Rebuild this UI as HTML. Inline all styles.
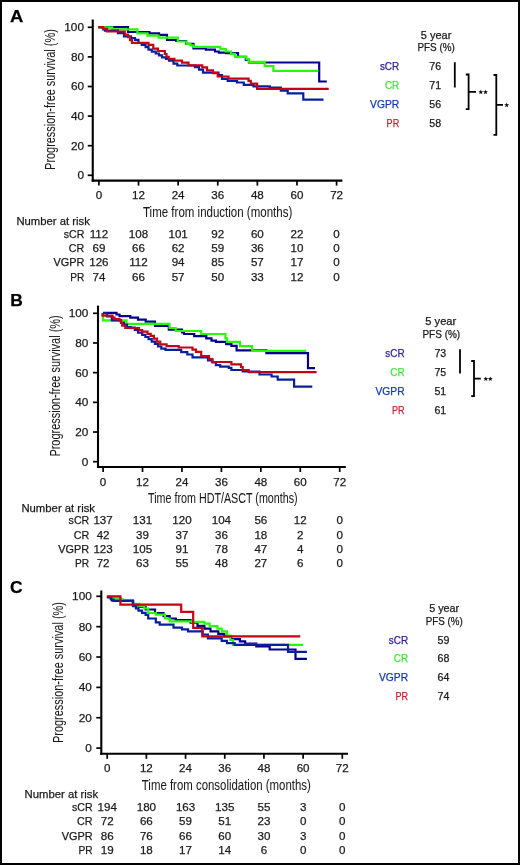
<!DOCTYPE html>
<html><head><meta charset="utf-8"><style>
html,body{margin:0;padding:0;background:#fff;}
body{width:520px;height:865px;overflow:hidden;}
.frame{position:absolute;left:0;top:0;width:516px;height:861px;border:2px solid #000;background:#fff;}
svg{position:absolute;left:0;top:0;will-change:transform;}
text{font-family:"Liberation Sans", sans-serif;stroke:currentColor;stroke-width:0.25px;}
</style></head><body>
<div class="frame"></div>
<svg width="520" height="865" viewBox="0 0 520 865">
<text x="10.10" y="22.40" font-size="17.4" textLength="13.30" lengthAdjust="spacingAndGlyphs" font-weight="bold" fill="#000" color="#000">A</text>
<line x1="92.75" y1="19.50" x2="92.75" y2="181.65" stroke="#000" stroke-width="2.1"/>
<line x1="91.70" y1="180.60" x2="342.40" y2="180.60" stroke="#000" stroke-width="2.1"/>
<line x1="87.75" y1="175.30" x2="92.75" y2="175.30" stroke="#000" stroke-width="1.7"/>
<text x="84.00" y="179.20" font-size="11.8" text-anchor="end" fill="#1a1a1a" color="#1a1a1a">0</text>
<line x1="87.75" y1="145.70" x2="92.75" y2="145.70" stroke="#000" stroke-width="1.7"/>
<text x="84.00" y="149.60" font-size="11.8" text-anchor="end" fill="#1a1a1a" color="#1a1a1a">20</text>
<line x1="87.75" y1="116.10" x2="92.75" y2="116.10" stroke="#000" stroke-width="1.7"/>
<text x="84.00" y="120.00" font-size="11.8" text-anchor="end" fill="#1a1a1a" color="#1a1a1a">40</text>
<line x1="87.75" y1="86.50" x2="92.75" y2="86.50" stroke="#000" stroke-width="1.7"/>
<text x="84.00" y="90.40" font-size="11.8" text-anchor="end" fill="#1a1a1a" color="#1a1a1a">60</text>
<line x1="87.75" y1="56.90" x2="92.75" y2="56.90" stroke="#000" stroke-width="1.7"/>
<text x="84.00" y="60.80" font-size="11.8" text-anchor="end" fill="#1a1a1a" color="#1a1a1a">80</text>
<line x1="87.75" y1="27.30" x2="92.75" y2="27.30" stroke="#000" stroke-width="1.7"/>
<text x="84.00" y="31.20" font-size="11.8" text-anchor="end" fill="#1a1a1a" color="#1a1a1a">100</text>
<line x1="98.90" y1="180.60" x2="98.90" y2="185.60" stroke="#000" stroke-width="1.7"/>
<text x="98.90" y="199.10" font-size="11.6" text-anchor="middle" fill="#1a1a1a" color="#1a1a1a">0</text>
<line x1="138.52" y1="180.60" x2="138.52" y2="185.60" stroke="#000" stroke-width="1.7"/>
<text x="138.52" y="199.10" font-size="11.6" text-anchor="middle" fill="#1a1a1a" color="#1a1a1a">12</text>
<line x1="178.13" y1="180.60" x2="178.13" y2="185.60" stroke="#000" stroke-width="1.7"/>
<text x="178.13" y="199.10" font-size="11.6" text-anchor="middle" fill="#1a1a1a" color="#1a1a1a">24</text>
<line x1="217.75" y1="180.60" x2="217.75" y2="185.60" stroke="#000" stroke-width="1.7"/>
<text x="217.75" y="199.10" font-size="11.6" text-anchor="middle" fill="#1a1a1a" color="#1a1a1a">36</text>
<line x1="257.37" y1="180.60" x2="257.37" y2="185.60" stroke="#000" stroke-width="1.7"/>
<text x="257.37" y="199.10" font-size="11.6" text-anchor="middle" fill="#1a1a1a" color="#1a1a1a">48</text>
<line x1="296.98" y1="180.60" x2="296.98" y2="185.60" stroke="#000" stroke-width="1.7"/>
<text x="296.98" y="199.10" font-size="11.6" text-anchor="middle" fill="#1a1a1a" color="#1a1a1a">60</text>
<line x1="336.60" y1="180.60" x2="336.60" y2="185.60" stroke="#000" stroke-width="1.7"/>
<text x="336.60" y="199.10" font-size="11.6" text-anchor="middle" fill="#1a1a1a" color="#1a1a1a">72</text>
<text x="143.00" y="216.70" font-size="14.0" textLength="149.30" lengthAdjust="spacingAndGlyphs" fill="#1a1a1a" color="#1a1a1a" style="stroke-width:0.05px">Time from induction (months)</text>
<text transform="translate(54.70,169.90) rotate(-90)" x="0" y="0" font-size="14.6" textLength="140.70" lengthAdjust="spacingAndGlyphs" fill="#1a1a1a" color="#1a1a1a" style="stroke-width:0.05px">Progression-free survival (%)</text>
<path d="M98.3 27.2H128.0V32.0H149.4V33.3H159.0V34.9H167.0V40.0H176.3V41.0H186.0V43.8H193.5V48.4H205.8V49.6H215.0V51.5H218.8V52.7H226.0V53.2H238.0V56.8H245.8V60.0H249.0V62.5H319.2V81.5H326.8" fill="none" stroke="#00008c" stroke-width="2.2" stroke-linejoin="miter" stroke-linecap="butt"/>
<path d="M98.3 27.2H104.5V27.4H112.3V29.4H137.4V33.3H147.5V35.7H158.6V37.6H177.8V41.5H186.5V43.8H190.4V45.3H193.5V46.8H220.4V49.2H225.8V51.5H231.0V53.8H235.0V56.8H246.5V59.2H248.8V61.8H264.7V66.0H273.4V70.8H318.4" fill="none" stroke="#26fa06" stroke-width="2.2" stroke-linejoin="miter" stroke-linecap="butt"/>
<path d="M98.3 27.2H103.0V29.4H105.0V30.7H117.9V33.2H124.0V36.3H131.0V38.0H135.0V39.8H138.5V43.0H141.7V44.8H145.6V47.2H148.5V49.6H151.8V51.6H155.7V53.5H159.0V55.4H162.0V57.3H166.0V59.0H169.0V60.7H173.5V63.6H177.3V65.5H195.0V67.2H199.0V69.6H203.0V72.7H218.5V75.0H222.0V78.8H227.7V81.0H237.0V82.5H243.8V84.8H253.5V86.3H269.8V87.7H280.8V90.6H287.7V93.3H303.3V99.7H323.5" fill="none" stroke="#0420a0" stroke-width="2.2" stroke-linejoin="miter" stroke-linecap="butt"/>
<path d="M98.3 27.2H103.2V28.9H107.1V31.5H124.8V34.5H128.0V37.1H130.0V40.2H132.0V42.9H148.5V44.8H153.3V48.7H158.0V51.0H164.8V54.0H166.5V56.8H168.7V58.8H174.4V60.7H182.0V62.6H188.5V65.3H202.3V67.3H207.0V70.4H213.0V73.2H217.7V76.5H228.5V78.6H248.5V80.8H250.8V83.6H257.1V88.9H328.7" fill="none" stroke="#c20414" stroke-width="2.2" stroke-linejoin="miter" stroke-linecap="butt"/>
<text x="16.40" y="224.60" font-size="11.6" textLength="73.50" lengthAdjust="spacingAndGlyphs" fill="#1a1a1a" color="#1a1a1a">Number at risk</text>
<text x="84.30" y="237.90" font-size="11.6" text-anchor="end" textLength="20.60" lengthAdjust="spacingAndGlyphs" fill="#1a1a1a" color="#1a1a1a">sCR</text>
<text x="98.90" y="237.90" font-size="11.6" text-anchor="middle" fill="#1a1a1a" color="#1a1a1a">112</text>
<text x="138.52" y="237.90" font-size="11.6" text-anchor="middle" fill="#1a1a1a" color="#1a1a1a">108</text>
<text x="178.13" y="237.90" font-size="11.6" text-anchor="middle" fill="#1a1a1a" color="#1a1a1a">101</text>
<text x="217.75" y="237.90" font-size="11.6" text-anchor="middle" fill="#1a1a1a" color="#1a1a1a">92</text>
<text x="257.37" y="237.90" font-size="11.6" text-anchor="middle" fill="#1a1a1a" color="#1a1a1a">60</text>
<text x="296.98" y="237.90" font-size="11.6" text-anchor="middle" fill="#1a1a1a" color="#1a1a1a">22</text>
<text x="336.60" y="237.90" font-size="11.6" text-anchor="middle" fill="#1a1a1a" color="#1a1a1a">0</text>
<text x="84.30" y="252.17" font-size="11.6" text-anchor="end" textLength="15.50" lengthAdjust="spacingAndGlyphs" fill="#1a1a1a" color="#1a1a1a">CR</text>
<text x="98.90" y="252.17" font-size="11.6" text-anchor="middle" fill="#1a1a1a" color="#1a1a1a">69</text>
<text x="138.52" y="252.17" font-size="11.6" text-anchor="middle" fill="#1a1a1a" color="#1a1a1a">66</text>
<text x="178.13" y="252.17" font-size="11.6" text-anchor="middle" fill="#1a1a1a" color="#1a1a1a">62</text>
<text x="217.75" y="252.17" font-size="11.6" text-anchor="middle" fill="#1a1a1a" color="#1a1a1a">59</text>
<text x="257.37" y="252.17" font-size="11.6" text-anchor="middle" fill="#1a1a1a" color="#1a1a1a">36</text>
<text x="296.98" y="252.17" font-size="11.6" text-anchor="middle" fill="#1a1a1a" color="#1a1a1a">10</text>
<text x="336.60" y="252.17" font-size="11.6" text-anchor="middle" fill="#1a1a1a" color="#1a1a1a">0</text>
<text x="84.30" y="266.44" font-size="11.6" text-anchor="end" textLength="30.90" lengthAdjust="spacingAndGlyphs" fill="#1a1a1a" color="#1a1a1a">VGPR</text>
<text x="98.90" y="266.44" font-size="11.6" text-anchor="middle" fill="#1a1a1a" color="#1a1a1a">126</text>
<text x="138.52" y="266.44" font-size="11.6" text-anchor="middle" fill="#1a1a1a" color="#1a1a1a">112</text>
<text x="178.13" y="266.44" font-size="11.6" text-anchor="middle" fill="#1a1a1a" color="#1a1a1a">94</text>
<text x="217.75" y="266.44" font-size="11.6" text-anchor="middle" fill="#1a1a1a" color="#1a1a1a">85</text>
<text x="257.37" y="266.44" font-size="11.6" text-anchor="middle" fill="#1a1a1a" color="#1a1a1a">57</text>
<text x="296.98" y="266.44" font-size="11.6" text-anchor="middle" fill="#1a1a1a" color="#1a1a1a">17</text>
<text x="336.60" y="266.44" font-size="11.6" text-anchor="middle" fill="#1a1a1a" color="#1a1a1a">0</text>
<text x="84.30" y="280.71" font-size="11.6" text-anchor="end" textLength="14.10" lengthAdjust="spacingAndGlyphs" fill="#1a1a1a" color="#1a1a1a">PR</text>
<text x="98.90" y="280.71" font-size="11.6" text-anchor="middle" fill="#1a1a1a" color="#1a1a1a">74</text>
<text x="138.52" y="280.71" font-size="11.6" text-anchor="middle" fill="#1a1a1a" color="#1a1a1a">66</text>
<text x="178.13" y="280.71" font-size="11.6" text-anchor="middle" fill="#1a1a1a" color="#1a1a1a">57</text>
<text x="217.75" y="280.71" font-size="11.6" text-anchor="middle" fill="#1a1a1a" color="#1a1a1a">50</text>
<text x="257.37" y="280.71" font-size="11.6" text-anchor="middle" fill="#1a1a1a" color="#1a1a1a">33</text>
<text x="296.98" y="280.71" font-size="11.6" text-anchor="middle" fill="#1a1a1a" color="#1a1a1a">12</text>
<text x="336.60" y="280.71" font-size="11.6" text-anchor="middle" fill="#1a1a1a" color="#1a1a1a">0</text>
<text x="420.80" y="38.50" font-size="10.6" textLength="30.50" lengthAdjust="spacingAndGlyphs" fill="#1a1a1a" color="#1a1a1a">5 year</text>
<text x="417.50" y="51.30" font-size="10.6" textLength="37.30" lengthAdjust="spacingAndGlyphs" fill="#1a1a1a" color="#1a1a1a">PFS (%)</text>
<text x="399.20" y="69.95" font-size="10.4" text-anchor="end" textLength="19.30" lengthAdjust="spacingAndGlyphs" fill="#30209a" color="#30209a">sCR</text>
<text x="429.30" y="69.95" font-size="10.6" fill="#1a1a1a" color="#1a1a1a">76</text>
<text x="399.20" y="88.90" font-size="10.4" text-anchor="end" textLength="14.30" lengthAdjust="spacingAndGlyphs" fill="#3fe83a" color="#3fe83a">CR</text>
<text x="429.30" y="88.90" font-size="10.6" fill="#1a1a1a" color="#1a1a1a">71</text>
<text x="399.20" y="107.85" font-size="10.4" text-anchor="end" textLength="29.10" lengthAdjust="spacingAndGlyphs" fill="#163cb0" color="#163cb0">VGPR</text>
<text x="429.30" y="107.85" font-size="10.6" fill="#1a1a1a" color="#1a1a1a">56</text>
<text x="399.20" y="126.80" font-size="10.4" text-anchor="end" textLength="12.60" lengthAdjust="spacingAndGlyphs" fill="#d01f2e" color="#d01f2e">PR</text>
<text x="429.30" y="126.80" font-size="10.6" fill="#1a1a1a" color="#1a1a1a">58</text>
<line x1="454.80" y1="62.20" x2="454.80" y2="87.50" stroke="#000" stroke-width="1.8"/>
<path d="M465.8 74.5H468.6V109.2H465.8M468.6 91.8H476.0" fill="none" stroke="#000" stroke-width="1.8"/>
<polygon points="480.80,89.50 481.45,91.21 483.27,91.30 481.85,92.44 482.33,94.20 480.80,93.20 479.27,94.20 479.75,92.44 478.33,91.30 480.15,91.21" fill="#111"/>
<polygon points="485.50,89.50 486.15,91.21 487.97,91.30 486.55,92.44 487.03,94.20 485.50,93.20 483.97,94.20 484.45,92.44 483.03,91.30 484.85,91.21" fill="#111"/>
<path d="M493.5 75.0H496.3V134.8H493.5M496.3 104.8H503.0" fill="none" stroke="#000" stroke-width="1.8"/>
<polygon points="506.70,102.50 507.35,104.21 509.17,104.30 507.75,105.44 508.23,107.20 506.70,106.20 505.17,107.20 505.65,105.44 504.23,104.30 506.05,104.21" fill="#111"/>
<text x="10.20" y="305.80" font-size="17.4" font-weight="bold" fill="#000" color="#000">B</text>
<line x1="98.00" y1="305.60" x2="98.00" y2="468.05" stroke="#000" stroke-width="2.1"/>
<line x1="96.95" y1="467.00" x2="345.80" y2="467.00" stroke="#000" stroke-width="2.1"/>
<line x1="93.00" y1="461.70" x2="98.00" y2="461.70" stroke="#000" stroke-width="1.7"/>
<text x="88.40" y="465.60" font-size="11.8" text-anchor="end" fill="#1a1a1a" color="#1a1a1a">0</text>
<line x1="93.00" y1="432.02" x2="98.00" y2="432.02" stroke="#000" stroke-width="1.7"/>
<text x="88.40" y="435.92" font-size="11.8" text-anchor="end" fill="#1a1a1a" color="#1a1a1a">20</text>
<line x1="93.00" y1="402.34" x2="98.00" y2="402.34" stroke="#000" stroke-width="1.7"/>
<text x="88.40" y="406.24" font-size="11.8" text-anchor="end" fill="#1a1a1a" color="#1a1a1a">40</text>
<line x1="93.00" y1="372.66" x2="98.00" y2="372.66" stroke="#000" stroke-width="1.7"/>
<text x="88.40" y="376.56" font-size="11.8" text-anchor="end" fill="#1a1a1a" color="#1a1a1a">60</text>
<line x1="93.00" y1="342.98" x2="98.00" y2="342.98" stroke="#000" stroke-width="1.7"/>
<text x="88.40" y="346.88" font-size="11.8" text-anchor="end" fill="#1a1a1a" color="#1a1a1a">80</text>
<line x1="93.00" y1="313.30" x2="98.00" y2="313.30" stroke="#000" stroke-width="1.7"/>
<text x="88.40" y="317.20" font-size="11.8" text-anchor="end" fill="#1a1a1a" color="#1a1a1a">100</text>
<line x1="103.10" y1="467.00" x2="103.10" y2="472.00" stroke="#000" stroke-width="1.7"/>
<text x="103.10" y="485.70" font-size="11.6" text-anchor="middle" fill="#1a1a1a" color="#1a1a1a">0</text>
<line x1="142.53" y1="467.00" x2="142.53" y2="472.00" stroke="#000" stroke-width="1.7"/>
<text x="142.53" y="485.70" font-size="11.6" text-anchor="middle" fill="#1a1a1a" color="#1a1a1a">12</text>
<line x1="181.97" y1="467.00" x2="181.97" y2="472.00" stroke="#000" stroke-width="1.7"/>
<text x="181.97" y="485.70" font-size="11.6" text-anchor="middle" fill="#1a1a1a" color="#1a1a1a">24</text>
<line x1="221.40" y1="467.00" x2="221.40" y2="472.00" stroke="#000" stroke-width="1.7"/>
<text x="221.40" y="485.70" font-size="11.6" text-anchor="middle" fill="#1a1a1a" color="#1a1a1a">36</text>
<line x1="260.83" y1="467.00" x2="260.83" y2="472.00" stroke="#000" stroke-width="1.7"/>
<text x="260.83" y="485.70" font-size="11.6" text-anchor="middle" fill="#1a1a1a" color="#1a1a1a">48</text>
<line x1="300.27" y1="467.00" x2="300.27" y2="472.00" stroke="#000" stroke-width="1.7"/>
<text x="300.27" y="485.70" font-size="11.6" text-anchor="middle" fill="#1a1a1a" color="#1a1a1a">60</text>
<line x1="339.70" y1="467.00" x2="339.70" y2="472.00" stroke="#000" stroke-width="1.7"/>
<text x="339.70" y="485.70" font-size="11.6" text-anchor="middle" fill="#1a1a1a" color="#1a1a1a">72</text>
<text x="148.00" y="502.80" font-size="14.0" textLength="149.70" lengthAdjust="spacingAndGlyphs" fill="#1a1a1a" color="#1a1a1a" style="stroke-width:0.05px">Time from HDT/ASCT (months)</text>
<text transform="translate(59.60,456.60) rotate(-90)" x="0" y="0" font-size="14.6" textLength="141.30" lengthAdjust="spacingAndGlyphs" fill="#1a1a1a" color="#1a1a1a" style="stroke-width:0.05px">Progression-free survival (%)</text>
<path d="M103.0 312.8H116.5V314.5H119.5V316.1H130.3V317.6H138.0V319.6H145.7V321.6H155.0V325.8H168.8V329.6H182.0V332.3H184.0V334.0H194.2V336.1H206.3V338.4H211.5V340.6H215.9V341.8H226.2V344.1H231.4V345.8H236.6V350.3H266.4V353.2H308.0V368.2H315.0" fill="none" stroke="#00008c" stroke-width="2.2" stroke-linejoin="miter" stroke-linecap="butt"/>
<path d="M103.0 312.8H103.0V320.3H126.5V323.8H169.5V328.0H175.7V331.0H201.2V334.0H225.4V338.4H227.0V341.8H240.0V346.2H252.2V350.8H306.2" fill="none" stroke="#26fa06" stroke-width="2.2" stroke-linejoin="miter" stroke-linecap="butt"/>
<path d="M103.0 313.2H107.0V316.5H111.8V320.4H121.0V322.7H124.0V324.5H127.0V327.0H130.6V327.5H134.8V330.0H138.0V332.7H142.2V334.9H145.4V337.0H148.6V339.1H151.7V341.7H154.9V343.9H158.0V346.5H161.3V348.6H165.5V349.9H181.2V352.2H187.3V354.5H192.5V357.4H208.0V360.3H212.4V362.5H215.9V365.2H220.2V366.6H228.8V367.8H231.4V370.0H242.7V371.5H259.5V374.5H271.6V376.5H277.7V379.7H294.1V386.6H312.3" fill="none" stroke="#0420a0" stroke-width="2.2" stroke-linejoin="miter" stroke-linecap="butt"/>
<path d="M102.5 313.0H102.5V315.7H112.6V317.6H114.5V319.2H119.5V320.7H121.0V323.0H122.2V325.7H125.3V328.0H139.0V330.0H142.2V331.7H147.5V333.8H150.7V335.9H153.9V338.6H157.0V341.7H160.2V344.4H166.6V346.1H178.7V347.5H192.5V349.6H196.0V351.9H201.2V356.2H209.0V359.1H212.4V362.0H231.4V364.3H241.0V367.0H242.7V370.0H248.7V372.2H316.6" fill="none" stroke="#c20414" stroke-width="2.2" stroke-linejoin="miter" stroke-linecap="butt"/>
<text x="21.40" y="511.80" font-size="11.6" textLength="73.60" lengthAdjust="spacingAndGlyphs" fill="#1a1a1a" color="#1a1a1a">Number at risk</text>
<text x="89.20" y="524.30" font-size="11.6" text-anchor="end" textLength="20.60" lengthAdjust="spacingAndGlyphs" fill="#1a1a1a" color="#1a1a1a">sCR</text>
<text x="103.10" y="524.30" font-size="11.6" text-anchor="middle" fill="#1a1a1a" color="#1a1a1a">137</text>
<text x="142.53" y="524.30" font-size="11.6" text-anchor="middle" fill="#1a1a1a" color="#1a1a1a">131</text>
<text x="181.97" y="524.30" font-size="11.6" text-anchor="middle" fill="#1a1a1a" color="#1a1a1a">120</text>
<text x="221.40" y="524.30" font-size="11.6" text-anchor="middle" fill="#1a1a1a" color="#1a1a1a">104</text>
<text x="260.83" y="524.30" font-size="11.6" text-anchor="middle" fill="#1a1a1a" color="#1a1a1a">56</text>
<text x="300.27" y="524.30" font-size="11.6" text-anchor="middle" fill="#1a1a1a" color="#1a1a1a">12</text>
<text x="339.70" y="524.30" font-size="11.6" text-anchor="middle" fill="#1a1a1a" color="#1a1a1a">0</text>
<text x="89.20" y="538.53" font-size="11.6" text-anchor="end" textLength="15.50" lengthAdjust="spacingAndGlyphs" fill="#1a1a1a" color="#1a1a1a">CR</text>
<text x="103.10" y="538.53" font-size="11.6" text-anchor="middle" fill="#1a1a1a" color="#1a1a1a">42</text>
<text x="142.53" y="538.53" font-size="11.6" text-anchor="middle" fill="#1a1a1a" color="#1a1a1a">39</text>
<text x="181.97" y="538.53" font-size="11.6" text-anchor="middle" fill="#1a1a1a" color="#1a1a1a">37</text>
<text x="221.40" y="538.53" font-size="11.6" text-anchor="middle" fill="#1a1a1a" color="#1a1a1a">36</text>
<text x="260.83" y="538.53" font-size="11.6" text-anchor="middle" fill="#1a1a1a" color="#1a1a1a">18</text>
<text x="300.27" y="538.53" font-size="11.6" text-anchor="middle" fill="#1a1a1a" color="#1a1a1a">2</text>
<text x="339.70" y="538.53" font-size="11.6" text-anchor="middle" fill="#1a1a1a" color="#1a1a1a">0</text>
<text x="89.20" y="552.76" font-size="11.6" text-anchor="end" textLength="30.90" lengthAdjust="spacingAndGlyphs" fill="#1a1a1a" color="#1a1a1a">VGPR</text>
<text x="103.10" y="552.76" font-size="11.6" text-anchor="middle" fill="#1a1a1a" color="#1a1a1a">123</text>
<text x="142.53" y="552.76" font-size="11.6" text-anchor="middle" fill="#1a1a1a" color="#1a1a1a">105</text>
<text x="181.97" y="552.76" font-size="11.6" text-anchor="middle" fill="#1a1a1a" color="#1a1a1a">91</text>
<text x="221.40" y="552.76" font-size="11.6" text-anchor="middle" fill="#1a1a1a" color="#1a1a1a">78</text>
<text x="260.83" y="552.76" font-size="11.6" text-anchor="middle" fill="#1a1a1a" color="#1a1a1a">47</text>
<text x="300.27" y="552.76" font-size="11.6" text-anchor="middle" fill="#1a1a1a" color="#1a1a1a">4</text>
<text x="339.70" y="552.76" font-size="11.6" text-anchor="middle" fill="#1a1a1a" color="#1a1a1a">0</text>
<text x="89.20" y="566.99" font-size="11.6" text-anchor="end" textLength="14.10" lengthAdjust="spacingAndGlyphs" fill="#1a1a1a" color="#1a1a1a">PR</text>
<text x="103.10" y="566.99" font-size="11.6" text-anchor="middle" fill="#1a1a1a" color="#1a1a1a">72</text>
<text x="142.53" y="566.99" font-size="11.6" text-anchor="middle" fill="#1a1a1a" color="#1a1a1a">63</text>
<text x="181.97" y="566.99" font-size="11.6" text-anchor="middle" fill="#1a1a1a" color="#1a1a1a">55</text>
<text x="221.40" y="566.99" font-size="11.6" text-anchor="middle" fill="#1a1a1a" color="#1a1a1a">48</text>
<text x="260.83" y="566.99" font-size="11.6" text-anchor="middle" fill="#1a1a1a" color="#1a1a1a">27</text>
<text x="300.27" y="566.99" font-size="11.6" text-anchor="middle" fill="#1a1a1a" color="#1a1a1a">6</text>
<text x="339.70" y="566.99" font-size="11.6" text-anchor="middle" fill="#1a1a1a" color="#1a1a1a">0</text>
<text x="425.30" y="325.00" font-size="10.6" textLength="31.00" lengthAdjust="spacingAndGlyphs" fill="#1a1a1a" color="#1a1a1a">5 year</text>
<text x="422.40" y="338.20" font-size="10.6" textLength="37.80" lengthAdjust="spacingAndGlyphs" fill="#1a1a1a" color="#1a1a1a">PFS (%)</text>
<text x="404.60" y="357.30" font-size="10.4" text-anchor="end" textLength="19.30" lengthAdjust="spacingAndGlyphs" fill="#30209a" color="#30209a">sCR</text>
<text x="434.40" y="357.30" font-size="10.6" fill="#1a1a1a" color="#1a1a1a">73</text>
<text x="404.60" y="376.17" font-size="10.4" text-anchor="end" textLength="14.30" lengthAdjust="spacingAndGlyphs" fill="#3fe83a" color="#3fe83a">CR</text>
<text x="434.40" y="376.17" font-size="10.6" fill="#1a1a1a" color="#1a1a1a">75</text>
<text x="404.60" y="395.04" font-size="10.4" text-anchor="end" textLength="29.10" lengthAdjust="spacingAndGlyphs" fill="#163cb0" color="#163cb0">VGPR</text>
<text x="434.40" y="395.04" font-size="10.6" fill="#1a1a1a" color="#1a1a1a">51</text>
<text x="404.60" y="413.91" font-size="10.4" text-anchor="end" textLength="12.60" lengthAdjust="spacingAndGlyphs" fill="#d01f2e" color="#d01f2e">PR</text>
<text x="434.40" y="413.91" font-size="10.6" fill="#1a1a1a" color="#1a1a1a">61</text>
<line x1="460.00" y1="349.20" x2="460.00" y2="373.50" stroke="#000" stroke-width="1.8"/>
<path d="M471.2 361.0H474.0V396.2H471.2M474.0 378.7H480.8" fill="none" stroke="#000" stroke-width="1.8"/>
<polygon points="485.80,376.40 486.45,378.11 488.27,378.20 486.85,379.34 487.33,381.10 485.80,380.10 484.27,381.10 484.75,379.34 483.33,378.20 485.15,378.11" fill="#111"/>
<polygon points="490.30,376.40 490.95,378.11 492.77,378.20 491.35,379.34 491.83,381.10 490.30,380.10 488.77,381.10 489.25,379.34 487.83,378.20 489.65,378.11" fill="#111"/>
<text x="10.00" y="592.50" font-size="17.4" font-weight="bold" fill="#000" color="#000">C</text>
<line x1="101.30" y1="590.50" x2="101.30" y2="754.85" stroke="#000" stroke-width="2.1"/>
<line x1="100.25" y1="753.80" x2="348.00" y2="753.80" stroke="#000" stroke-width="2.1"/>
<line x1="96.30" y1="748.10" x2="101.30" y2="748.10" stroke="#000" stroke-width="1.7"/>
<text x="91.80" y="752.00" font-size="11.8" text-anchor="end" fill="#1a1a1a" color="#1a1a1a">0</text>
<line x1="96.30" y1="717.74" x2="101.30" y2="717.74" stroke="#000" stroke-width="1.7"/>
<text x="91.80" y="721.64" font-size="11.8" text-anchor="end" fill="#1a1a1a" color="#1a1a1a">20</text>
<line x1="96.30" y1="687.38" x2="101.30" y2="687.38" stroke="#000" stroke-width="1.7"/>
<text x="91.80" y="691.28" font-size="11.8" text-anchor="end" fill="#1a1a1a" color="#1a1a1a">40</text>
<line x1="96.30" y1="657.02" x2="101.30" y2="657.02" stroke="#000" stroke-width="1.7"/>
<text x="91.80" y="660.92" font-size="11.8" text-anchor="end" fill="#1a1a1a" color="#1a1a1a">60</text>
<line x1="96.30" y1="626.66" x2="101.30" y2="626.66" stroke="#000" stroke-width="1.7"/>
<text x="91.80" y="630.56" font-size="11.8" text-anchor="end" fill="#1a1a1a" color="#1a1a1a">80</text>
<line x1="96.30" y1="596.30" x2="101.30" y2="596.30" stroke="#000" stroke-width="1.7"/>
<text x="91.80" y="600.20" font-size="11.8" text-anchor="end" fill="#1a1a1a" color="#1a1a1a">100</text>
<line x1="107.20" y1="753.80" x2="107.20" y2="758.80" stroke="#000" stroke-width="1.7"/>
<text x="107.20" y="771.90" font-size="11.6" text-anchor="middle" fill="#1a1a1a" color="#1a1a1a">0</text>
<line x1="146.38" y1="753.80" x2="146.38" y2="758.80" stroke="#000" stroke-width="1.7"/>
<text x="146.38" y="771.90" font-size="11.6" text-anchor="middle" fill="#1a1a1a" color="#1a1a1a">12</text>
<line x1="185.57" y1="753.80" x2="185.57" y2="758.80" stroke="#000" stroke-width="1.7"/>
<text x="185.57" y="771.90" font-size="11.6" text-anchor="middle" fill="#1a1a1a" color="#1a1a1a">24</text>
<line x1="224.75" y1="753.80" x2="224.75" y2="758.80" stroke="#000" stroke-width="1.7"/>
<text x="224.75" y="771.90" font-size="11.6" text-anchor="middle" fill="#1a1a1a" color="#1a1a1a">36</text>
<line x1="263.93" y1="753.80" x2="263.93" y2="758.80" stroke="#000" stroke-width="1.7"/>
<text x="263.93" y="771.90" font-size="11.6" text-anchor="middle" fill="#1a1a1a" color="#1a1a1a">48</text>
<line x1="303.12" y1="753.80" x2="303.12" y2="758.80" stroke="#000" stroke-width="1.7"/>
<text x="303.12" y="771.90" font-size="11.6" text-anchor="middle" fill="#1a1a1a" color="#1a1a1a">60</text>
<line x1="342.30" y1="753.80" x2="342.30" y2="758.80" stroke="#000" stroke-width="1.7"/>
<text x="342.30" y="771.90" font-size="11.6" text-anchor="middle" fill="#1a1a1a" color="#1a1a1a">72</text>
<text x="141.80" y="790.20" font-size="14.0" textLength="169.00" lengthAdjust="spacingAndGlyphs" fill="#1a1a1a" color="#1a1a1a" style="stroke-width:0.05px">Time from consolidation (months)</text>
<text transform="translate(62.90,743.00) rotate(-90)" x="0" y="0" font-size="14.6" textLength="140.90" lengthAdjust="spacingAndGlyphs" fill="#1a1a1a" color="#1a1a1a" style="stroke-width:0.05px">Progression-free survival (%)</text>
<path d="M106.9 596.8H112.0V600.5H132.8V605.5H139.4V607.0H145.6V609.5H155.0V613.0H163.5V616.2H169.7V618.5H175.8V620.1H190.6V622.7H197.5V625.8H204.4V628.7H210.5V631.3H218.3V633.9H224.3V636.5H231.2V639.1H239.9V641.4H245.1V643.5H256.3V646.5H269.7V649.5H295.5V658.9H306.9" fill="none" stroke="#00008c" stroke-width="2.2" stroke-linejoin="miter" stroke-linecap="butt"/>
<path d="M106.9 597.0H110.0V598.3H120.8V599.0H122.5V600.9H132.8V603.9H139.4V606.2H144.3V608.5H148.2V613.0H155.8V614.6H165.0V618.5H169.7V621.3H192.3V621.8H204.4V623.6H209.6V626.2H217.4V628.7H221.7V631.3H227.0V635.7H230.4V640.0H233.0V644.8H303.2" fill="none" stroke="#26fa06" stroke-width="2.2" stroke-linejoin="miter" stroke-linecap="butt"/>
<path d="M106.9 597.4H111.0V599.5H113.5V600.9H133.2V606.2H135.9V608.4H138.5V610.6H142.0V612.8H145.6V615.0H148.2V618.5H155.8V622.3H159.7V624.6H173.5V627.7H182.0V629.3H188.0V631.3H202.7V634.5H207.9V638.3H221.7V640.9H227.0V643.1H234.7V644.8H288.0V651.8H306.9" fill="none" stroke="#0420a0" stroke-width="2.2" stroke-linejoin="miter" stroke-linecap="butt"/>
<path d="M106.9 596.4H120.4V604.7H181.2V611.8H193.2V627.9H202.3V636.3H300.3" fill="none" stroke="#c20414" stroke-width="2.2" stroke-linejoin="miter" stroke-linecap="butt"/>
<text x="24.60" y="797.80" font-size="11.6" textLength="73.60" lengthAdjust="spacingAndGlyphs" fill="#1a1a1a" color="#1a1a1a">Number at risk</text>
<text x="92.60" y="811.30" font-size="11.6" text-anchor="end" textLength="20.60" lengthAdjust="spacingAndGlyphs" fill="#1a1a1a" color="#1a1a1a">sCR</text>
<text x="107.20" y="811.30" font-size="11.6" text-anchor="middle" fill="#1a1a1a" color="#1a1a1a">194</text>
<text x="146.38" y="811.30" font-size="11.6" text-anchor="middle" fill="#1a1a1a" color="#1a1a1a">180</text>
<text x="185.57" y="811.30" font-size="11.6" text-anchor="middle" fill="#1a1a1a" color="#1a1a1a">163</text>
<text x="224.75" y="811.30" font-size="11.6" text-anchor="middle" fill="#1a1a1a" color="#1a1a1a">135</text>
<text x="263.93" y="811.30" font-size="11.6" text-anchor="middle" fill="#1a1a1a" color="#1a1a1a">55</text>
<text x="303.12" y="811.30" font-size="11.6" text-anchor="middle" fill="#1a1a1a" color="#1a1a1a">3</text>
<text x="342.30" y="811.30" font-size="11.6" text-anchor="middle" fill="#1a1a1a" color="#1a1a1a">0</text>
<text x="92.60" y="825.43" font-size="11.6" text-anchor="end" textLength="15.50" lengthAdjust="spacingAndGlyphs" fill="#1a1a1a" color="#1a1a1a">CR</text>
<text x="107.20" y="825.43" font-size="11.6" text-anchor="middle" fill="#1a1a1a" color="#1a1a1a">72</text>
<text x="146.38" y="825.43" font-size="11.6" text-anchor="middle" fill="#1a1a1a" color="#1a1a1a">66</text>
<text x="185.57" y="825.43" font-size="11.6" text-anchor="middle" fill="#1a1a1a" color="#1a1a1a">59</text>
<text x="224.75" y="825.43" font-size="11.6" text-anchor="middle" fill="#1a1a1a" color="#1a1a1a">51</text>
<text x="263.93" y="825.43" font-size="11.6" text-anchor="middle" fill="#1a1a1a" color="#1a1a1a">23</text>
<text x="303.12" y="825.43" font-size="11.6" text-anchor="middle" fill="#1a1a1a" color="#1a1a1a">0</text>
<text x="342.30" y="825.43" font-size="11.6" text-anchor="middle" fill="#1a1a1a" color="#1a1a1a">0</text>
<text x="92.60" y="839.56" font-size="11.6" text-anchor="end" textLength="30.90" lengthAdjust="spacingAndGlyphs" fill="#1a1a1a" color="#1a1a1a">VGPR</text>
<text x="107.20" y="839.56" font-size="11.6" text-anchor="middle" fill="#1a1a1a" color="#1a1a1a">86</text>
<text x="146.38" y="839.56" font-size="11.6" text-anchor="middle" fill="#1a1a1a" color="#1a1a1a">76</text>
<text x="185.57" y="839.56" font-size="11.6" text-anchor="middle" fill="#1a1a1a" color="#1a1a1a">66</text>
<text x="224.75" y="839.56" font-size="11.6" text-anchor="middle" fill="#1a1a1a" color="#1a1a1a">60</text>
<text x="263.93" y="839.56" font-size="11.6" text-anchor="middle" fill="#1a1a1a" color="#1a1a1a">30</text>
<text x="303.12" y="839.56" font-size="11.6" text-anchor="middle" fill="#1a1a1a" color="#1a1a1a">3</text>
<text x="342.30" y="839.56" font-size="11.6" text-anchor="middle" fill="#1a1a1a" color="#1a1a1a">0</text>
<text x="92.60" y="853.69" font-size="11.6" text-anchor="end" textLength="14.10" lengthAdjust="spacingAndGlyphs" fill="#1a1a1a" color="#1a1a1a">PR</text>
<text x="107.20" y="853.69" font-size="11.6" text-anchor="middle" fill="#1a1a1a" color="#1a1a1a">19</text>
<text x="146.38" y="853.69" font-size="11.6" text-anchor="middle" fill="#1a1a1a" color="#1a1a1a">18</text>
<text x="185.57" y="853.69" font-size="11.6" text-anchor="middle" fill="#1a1a1a" color="#1a1a1a">17</text>
<text x="224.75" y="853.69" font-size="11.6" text-anchor="middle" fill="#1a1a1a" color="#1a1a1a">14</text>
<text x="263.93" y="853.69" font-size="11.6" text-anchor="middle" fill="#1a1a1a" color="#1a1a1a">6</text>
<text x="303.12" y="853.69" font-size="11.6" text-anchor="middle" fill="#1a1a1a" color="#1a1a1a">0</text>
<text x="342.30" y="853.69" font-size="11.6" text-anchor="middle" fill="#1a1a1a" color="#1a1a1a">0</text>
<text x="429.20" y="612.00" font-size="10.6" textLength="30.00" lengthAdjust="spacingAndGlyphs" fill="#1a1a1a" color="#1a1a1a">5 year</text>
<text x="425.80" y="624.90" font-size="10.6" textLength="36.90" lengthAdjust="spacingAndGlyphs" fill="#1a1a1a" color="#1a1a1a">PFS (%)</text>
<text x="408.10" y="643.60" font-size="10.4" text-anchor="end" textLength="19.30" lengthAdjust="spacingAndGlyphs" fill="#30209a" color="#30209a">sCR</text>
<text x="437.60" y="643.60" font-size="10.6" fill="#1a1a1a" color="#1a1a1a">59</text>
<text x="408.10" y="662.37" font-size="10.4" text-anchor="end" textLength="14.30" lengthAdjust="spacingAndGlyphs" fill="#3fe83a" color="#3fe83a">CR</text>
<text x="437.60" y="662.37" font-size="10.6" fill="#1a1a1a" color="#1a1a1a">68</text>
<text x="408.10" y="681.14" font-size="10.4" text-anchor="end" textLength="29.10" lengthAdjust="spacingAndGlyphs" fill="#163cb0" color="#163cb0">VGPR</text>
<text x="437.60" y="681.14" font-size="10.6" fill="#1a1a1a" color="#1a1a1a">64</text>
<text x="408.10" y="699.91" font-size="10.4" text-anchor="end" textLength="12.60" lengthAdjust="spacingAndGlyphs" fill="#d01f2e" color="#d01f2e">PR</text>
<text x="437.60" y="699.91" font-size="10.6" fill="#1a1a1a" color="#1a1a1a">74</text>
</svg>
</body></html>
